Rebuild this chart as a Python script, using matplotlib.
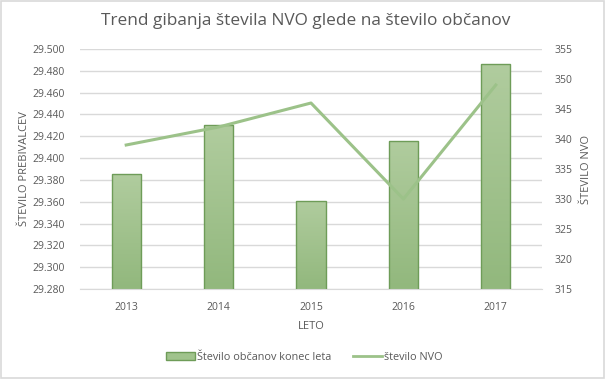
import numpy as np
import matplotlib.pyplot as plt
from matplotlib.patches import Rectangle, Patch
from matplotlib.lines import Line2D
from matplotlib.colors import LinearSegmentedColormap

years = ['2013', '2014', '2015', '2016', '2017']
obcani = [29.385, 29.430, 29.361, 29.416, 29.486]
nvo = [339, 342, 346, 330, 349]

plt.rcParams['font.family'] = ['Open Sans', 'DejaVu Sans']
gray = '#595959'

fig = plt.figure(figsize=(6.05, 3.79), dpi=100)
ax = fig.add_axes([80 / 605, 90 / 379, 462 / 605, 240 / 379])
ax2 = ax.twinx()

x = np.arange(len(years))
bars = ax.bar(x, obcani, width=0.315, color='none', edgecolor='#6e9c58', linewidth=1.0, zorder=3)

# vertical gradient fill for each bar
grad = LinearSegmentedColormap.from_list('g', ['#92b87d', '#b0cc9e'])
ymin, ymax = 29.280, 29.500
for b in bars:
    x0, w, h = b.get_x(), b.get_width(), b.get_height()
    img = np.linspace(0, 1, 100).reshape(-1, 1)
    im = ax.imshow(img, cmap=grad, origin='lower', aspect='auto',
                   extent=[x0, x0 + w, ymin, h], zorder=2)
    im.set_clip_path(Rectangle((x0, ymin), w, h - ymin, transform=ax.transData))

ax.set_xlim(-0.5, 4.5)
ax.set_ylim(ymin, ymax)
yt = np.arange(29.280, 29.5001, 0.02)
ax.set_yticks(yt)
ax.set_yticklabels([f'{v:.3f}' for v in yt])
ax.grid(axis='y', color='#d9d9d9', linewidth=1.0, zorder=0)
ax.set_axisbelow(True)
ax.set_xticks(x)
ax.set_xticklabels(years)

ax2.plot(x, nvo, color='#9cc289', linewidth=2.2, zorder=4)
ax2.set_ylim(315, 355)
ax2.set_yticks(range(315, 356, 5))

for a in (ax, ax2):
    for s in a.spines.values():
        s.set_visible(False)
    a.tick_params(length=0, colors=gray, labelsize=7.5)
ax.spines['bottom'].set_visible(True)
ax.spines['bottom'].set_color('#d9d9d9')
ax.tick_params(axis='y', pad=11)
ax.tick_params(axis='x', pad=9)
ax2.tick_params(axis='y', pad=9)

ax.set_xlabel('LETO', color=gray, fontsize=8)
ax.xaxis.set_label_coords(0.5, -0.133)
ax.set_ylabel('ŠTEVILO PREBIVALCEV', color=gray, fontsize=8)
ax.yaxis.set_label_coords(-0.108, 0.5)
ax2.set_ylabel('ŠTEVILO NVO', color=gray, fontsize=8)
ax2.yaxis.set_label_coords(1.085, 0.5)

fig.text(0.505, 0.945, 'Trend gibanja števila NVO glede na število občanov',
         ha='center', va='center', fontsize=12.4, color=gray)

handles = [Patch(facecolor='#a0c38c', edgecolor='#6e9c58'),
           Line2D([0], [0], color='#9cc289', linewidth=2)]
fig.legend(handles, ['Število občanov konec leta', 'število NVO'],
           loc='center', bbox_to_anchor=(0.503, 0.058), ncol=2, frameon=False,
           fontsize=7.8, labelcolor=gray, handlelength=2.7, handletextpad=0.2,
           columnspacing=2.0)

fig.patches.append(Rectangle((0.002, 0.003), 0.996, 0.994, transform=fig.transFigure,
                             fill=False, edgecolor='#d9d9d9', linewidth=1.2))

fig.savefig('out.png', dpi=100)
